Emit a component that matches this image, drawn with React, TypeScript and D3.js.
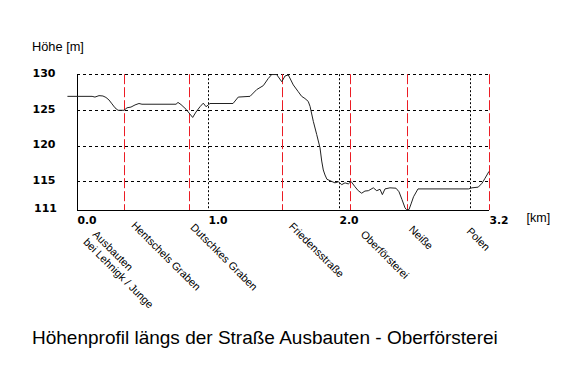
import React from "react";
import * as d3 from "d3";

// ---- data ----
const profileKm = [
  -0.073, 0.115, 0.137, 0.168, 0.198, 0.221, 0.244, 0.267, 0.29, 0.313, 0.359, 0.382, 0.412, 0.443,
  0.473, 0.496, 0.756, 0.771, 0.794, 0.832, 0.883, 0.908, 0.939, 0.964, 0.985, 1.015, 1.191, 1.231,
  1.321, 1.372, 1.422, 1.46, 1.486, 1.524, 1.563, 1.588, 1.613, 1.651, 1.689, 1.715, 1.74, 1.765,
  1.779, 1.804, 1.83, 1.855, 1.868, 1.88, 1.893, 1.908, 1.944, 1.969, 1.995, 2.021, 2.046, 2.071,
  2.092, 2.122, 2.147, 2.173, 2.198, 2.224, 2.262, 2.288, 2.313, 2.331, 2.351, 2.389, 2.435, 2.458,
  2.481, 2.504, 2.515, 2.534, 2.55, 2.569, 2.603, 2.989, 3.015, 3.063, 3.092, 3.115, 3.145,
];
const profileM = [
  126.9, 126.9, 126.8, 127.0, 126.95, 126.75, 126.4, 125.85, 125.3, 124.95, 124.95, 125.3, 125.4, 125.7,
  125.9, 125.8, 125.8, 126.05, 125.75, 125.1, 123.95, 124.7, 125.45, 125.95, 125.45, 125.9, 125.9, 126.8,
  126.9, 127.85, 128.4, 129.4, 129.95, 129.95, 128.95, 129.75, 129.9, 128.5, 127.55, 126.9, 126.6, 126.2,
  125.5, 123.4, 121.55, 119.7, 117.85, 116.6, 115.9, 115.3, 115.0, 114.8, 114.95, 114.55, 114.8, 114.65,
  115.0, 114.25, 113.7, 113.35, 113.65, 113.7, 114.1, 113.7, 113.9, 113.15, 113.95, 114.1, 114.05, 113.55,
  112.45, 111.3, 111.05, 111.05, 111.85, 112.85, 113.95, 113.95, 114.1, 114.2, 114.75, 115.45, 116.4,
];
const yGridValues = [130, 125, 120, 115];
const yTickLabels = ["130", "125", "120", "115", "111"];
const yTickValues = [130, 125, 120, 115, 111];
const xGridKm = [1, 2, 3];
const xTickLabels = ["0.0", "1.0", "2.0", "3.2"];
const xTickKm = [0, 1, 2, 3.145];
const markerKm = [0.361, 0.857, 1.563, 2.084, 2.517, 3.145];
const placeNames = [
  ["Ausbauten", "bei Lehnigk / Junge"],
  ["Hentschels Graben"],
  ["Dutschkes Graben"],
  ["Friedensstraße"],
  ["Oberförsterei"],
  ["Neiße"],
  ["Polen"],
];
const placeKm = [0, 0.361, 0.857, 1.563, 2.084, 2.517, 3.145];
const yTitle = "Höhe [m]";
const xUnit = "[km]";
const chartTitle = "Höhenprofil längs der Straße Ausbauten - Oberförsterei";

// ---- layout ----
const W = 576;
const H = 378;
const left = 77;
const right = 489;
const top = 74.2;
const bottom = 210;
// label offsets (px) relative to marker position
const labelDx = [15, 6.5, 0.5, 6.5, 10, 1.5, -23];
const labelDy = [235, 226, 228, 227, 235, 230, 232];

export default function App() {
  const x = d3.scaleLinear().domain([0, 3.145]).range([left, right]);
  const y = d3.scaleLinear().domain([111, 130]).range([bottom, top]);
  const pts: [number, number][] = profileKm.map((k, i) => [k, profileM[i]]);
  const line = d3
    .line<[number, number]>()
    .x((d) => x(d[0]))
    .y((d) => y(d[1]))(pts);

  const sans = "'Liberation Sans', Arial, sans-serif";
  const bold = "'DejaVu Sans', Verdana, sans-serif";

  return (
    <svg
      width={W}
      height={H}
      viewBox={`0 0 ${W} ${H}`}
      style={{ position: "absolute", left: 0, top: 0, background: "#fff" }}
    >
      <rect x={0} y={0} width={W} height={H} fill="#fff" />
      {/* horizontal dashed grid */}
      {yGridValues.map((v) => (
        <line
          key={"h" + v}
          x1={left}
          x2={right}
          y1={Math.round(y(v)) + 0.5}
          y2={Math.round(y(v)) + 0.5}
          stroke="#000"
          strokeWidth={1}
          strokeDasharray="3,3"
        />
      ))}
      {/* vertical dotted grid */}
      {xGridKm.map((k) => (
        <line
          key={"v" + k}
          x1={Math.round(x(k)) + 0.5}
          x2={Math.round(x(k)) + 0.5}
          y1={top}
          y2={bottom}
          stroke="#000"
          strokeWidth={1}
          strokeDasharray="2,2"
        />
      ))}
      {/* red markers */}
      {markerKm.map((k) => (
        <line
          key={"m" + k}
          x1={Math.round(x(k)) + 0.5}
          x2={Math.round(x(k)) + 0.5}
          y1={top}
          y2={bottom}
          stroke="#ec1c24"
          strokeWidth={1}
          strokeDasharray="10,3"
        />
      ))}
      {/* axes */}
      <line x1={left + 0.5} x2={left + 0.5} y1={top} y2={bottom + 0.5} stroke="#000" strokeWidth={1} />
      <line x1={left} x2={right} y1={bottom + 0.5} y2={bottom + 0.5} stroke="#000" strokeWidth={1} />
      {/* profile */}
      <path d={line || ""} fill="none" stroke="#222" strokeWidth={1} />
      {/* y tick labels */}
      {yTickValues.map((v, i) => (
        <text
          key={"yt" + v}
          x={v === 111 ? 57 : 55.5}
          y={y(v) + (v === 111 ? 1.5 : 2.8)}
          textAnchor="end"
          fontFamily={bold}
          fontWeight="bold"
          fontSize={11}
          fill="#000"
        >
          {yTickLabels[i]}
        </text>
      ))}
      <text x={32} y={51} fontFamily={sans} fontSize={12.8} fill="#000">
        {yTitle}
      </text>
      {/* x tick labels */}
      {xTickKm.map((k, i) => (
        <text
          key={"xt" + i}
          x={x(k) + 0.5}
          y={224}
          fontFamily={bold}
          fontWeight="bold"
          fontSize={10.8}
          fill="#000"
        >
          {xTickLabels[i]}
        </text>
      ))}
      <text x={526.5} y={222} fontFamily={sans} fontSize={12.5} fill="#000">
        {xUnit}
      </text>
      {/* place labels */}
      {placeNames.map((lines, i) => {
        const ox = x(placeKm[i]) + labelDx[i];
        const oy = labelDy[i];
        return (
          <text
            key={"pl" + i}
            transform={`translate(${ox},${oy}) rotate(45)`}
            fontFamily={sans}
            fontSize={10.8}
            fill="#000"
          >
            {lines.map((t, j) => (
              <tspan key={j} x={j === 0 ? 0 : -1} dy={j === 0 ? 0 : 12}>
                {t}
              </tspan>
            ))}
          </text>
        );
      })}
      {/* title */}
      <text x={32} y={343.5} fontFamily={sans} fontSize={19} fill="#000">
        {chartTitle}
      </text>
    </svg>
  );
}
